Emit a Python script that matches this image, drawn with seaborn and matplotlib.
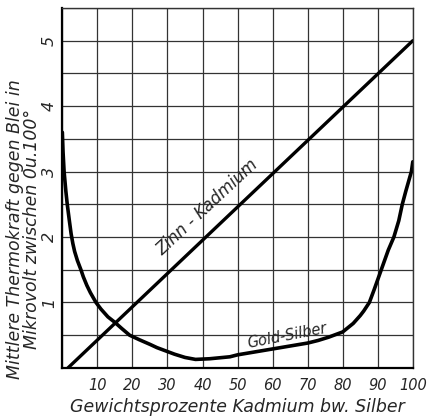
import matplotlib
matplotlib.use("Agg")
import matplotlib.pyplot as plt
import seaborn as sns
import numpy as np
import pandas as pd

# donnees
zinn_x = [1.6, 100]
zinn_y = [0.0, 5.0]

gold_x = [0, 0.2, 0.5, 1, 1.4, 2, 2.5, 3, 3.5, 4.3, 5.3, 6, 7, 8, 9.6, 11, 13, 14.9, 17, 19.2,
          22, 25, 27, 30, 32, 35, 38, 42, 47.8, 50, 60, 70, 73, 76, 80, 83, 85, 86, 87.6,
          89, 90, 91, 92, 93, 94.6, 96, 97, 98, 99.6, 100]
gold_y = [3.6, 3.3, 3.0, 2.7, 2.5, 2.25, 2.05, 1.9, 1.78, 1.64, 1.5, 1.39, 1.26, 1.15, 1.0, 0.9,
          0.78, 0.7, 0.6, 0.5, 0.43, 0.36, 0.31, 0.25, 0.21, 0.16, 0.13, 0.14, 0.17, 0.2, 0.29,
          0.38, 0.42, 0.47, 0.55, 0.68, 0.8, 0.87, 1.0, 1.2, 1.35, 1.5, 1.65, 1.8, 2.0, 2.25,
          2.5, 2.7, 3.0, 3.15]

x_ticks = list(range(0, 101, 10))
x_labels = [""] + [str(v) for v in range(10, 101, 10)]
y_ticks = [v / 2 for v in range(0, 12)]
y_labels = [str(int(v)) if v == int(v) and v > 0 else "" for v in y_ticks]

sns.set_style("white")
plt.rcParams['font.family'] = ['DejaVu Sans']

fig = plt.figure(figsize=(4.3, 4.2), dpi=100)
ax = fig.add_axes([0.145, 0.124, 0.815, 0.857])

df_zinn = pd.DataFrame({"x": zinn_x, "y": zinn_y})
df_gold = pd.DataFrame({"x": gold_x, "y": gold_y})
sns.lineplot(data=df_zinn, x="x", y="y", ax=ax, color="black", linewidth=2.4, sort=False)
sns.lineplot(data=df_gold, x="x", y="y", ax=ax, color="black", linewidth=2.6, sort=False)

ax.set_xlim(0, 100)
ax.set_ylim(0, 5.5)
ax.set_xticks(x_ticks)
ax.set_xticklabels(x_labels, fontsize=10.5, style="italic")
ax.set_yticks(y_ticks)
ax.set_yticklabels(y_labels, fontsize=11.5, style="italic", rotation=90, va="center")
ax.tick_params(axis="x", length=0, pad=7)
ax.tick_params(axis="y", length=0, pad=4)
ax.grid(True, color="#333333", linewidth=0.9)

for s in ["left", "bottom"]:
    ax.spines[s].set_linewidth(1.6)
    ax.spines[s].set_color("black")
for s in ["top", "right"]:
    ax.spines[s].set_linewidth(1.0)
    ax.spines[s].set_color("#333333")

ax.set_xlabel("Gewichtsprozente Kadmium bw. Silber", fontsize=12.5, style="italic", labelpad=4)
ax.set_ylabel("")

fig.text(0.054, 0.455, "Mittlere Thermokraft gegen Blei in\nMikrovolt zwischen 0u.100°",
         rotation=90, fontsize=12.5, style="italic", ha="center", va="center",
         multialignment="center", linespacing=0.95)

ax.text(41.3, 2.45, "Zinn - Kadmium", rotation=43, fontsize=12, style="italic",
        ha="center", va="center")
ax.text(64, 0.49, "Gold-Silber", rotation=11, fontsize=10.5, style="italic",
        ha="center", va="center")

fig.savefig("out.png", dpi=100, facecolor="white")
